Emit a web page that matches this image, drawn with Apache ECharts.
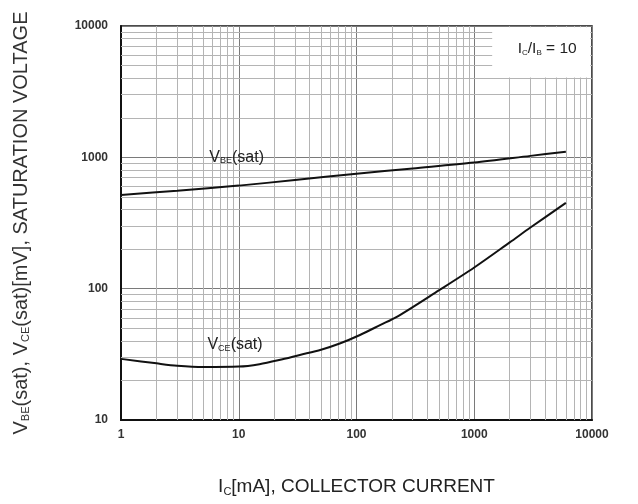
<!DOCTYPE html>
<html><head><meta charset="utf-8">
<script src="https://cdn.jsdelivr.net/npm/echarts@6/dist/echarts.min.js"></script>
<style>html,body{margin:0;padding:0;background:#fff}#c{width:638px;height:504px}</style>
</head><body><div id="c"></div>
<script>
// Data (Ic in mA, voltage in mV)
const vbeIc  = [1, 3, 10, 30, 100, 300, 1000, 3000, 6000];
const vbeV   = [517, 557, 609, 672, 750, 823, 912, 1026, 1105];
const vceIc  = [1, 2, 3, 5, 10, 15, 22, 33, 50, 73, 107, 160, 220, 500, 1000, 2000, 3000, 6000];
const vceV   = [29.2, 27, 25.9, 25.3, 25.5, 26.6, 28.6, 31.3, 34.3, 38.4, 44.4, 53, 61, 97, 145, 225, 292, 450];
const xTickLabels = ['1', '10', '100', '1000', '10000'];
const yTickLabels = ['10', '100', '1000', '10000'];
const xDecades = [1, 10, 100, 1000];
const yDecades = [10, 100, 1000];
const minorSteps = [2, 3, 4, 5, 6, 7, 8, 9];

const vbeData = vbeIc.map((x, i) => [x, vbeV[i]]);
const vceData = vceIc.map((x, i) => [x, vceV[i]]);

const minorLines = [];
xDecades.forEach(d => minorSteps.forEach(s => minorLines.push({xAxis: d * s})));
yDecades.forEach(d => minorSteps.forEach(s => minorLines.push({yAxis: d * s})));

const FONT = '"Liberation Sans", Arial, sans-serif';
const chart = echarts.init(document.getElementById('c'), null, {renderer: 'canvas'});
chart.setOption({
  animation: false,
  backgroundColor: '#fff',
  grid: {left: 121, right: 46, top: 26, bottom: 84, show: true, borderColor: '#111', borderWidth: 1.5, backgroundColor: 'transparent'},
  xAxis: {
    type: 'log', logBase: 10, min: 1, max: 10000,
    axisLine: {show: true, lineStyle: {color: '#111', width: 2}},
    axisTick: {show: false},
    splitLine: {show: true, lineStyle: {color: '#7a7a7a', width: 1}},
    axisLabel: {
      margin: 9, fontFamily: FONT, fontSize: 12, fontWeight: 'bold', color: '#333',
      formatter: v => xTickLabels[Math.round(Math.log10(v))]
    },
    name: '{n|I}{s|C}{n|[mA], COLLECTOR CURRENT}',
    nameLocation: 'middle', nameGap: 57,
    nameTextStyle: {
      rich: {
        n: {fontFamily: FONT, fontSize: 19, color: '#222'},
        s: {fontFamily: FONT, fontSize: 11, color: '#222', verticalAlign: 'bottom', padding: [9, 0, 0, 0]}
      }
    }
  },
  yAxis: {
    type: 'log', logBase: 10, min: 10, max: 10000,
    axisLine: {show: true, lineStyle: {color: '#111', width: 2}},
    axisTick: {show: false},
    splitLine: {show: true, lineStyle: {color: '#7a7a7a', width: 1}},
    axisLabel: {
      margin: 13, fontFamily: FONT, fontSize: 12, fontWeight: 'bold', color: '#333',
      formatter: v => yTickLabels[Math.round(Math.log10(v)) - 1]
    },
    name: '{n|V}{s|BE}{n|(sat), V}{s|CE}{n|(sat)[mV], SATURATION VOLTAGE}',
    nameLocation: 'middle', nameGap: 90, nameRotate: 90,
    nameTextStyle: {
      rich: {
        n: {fontFamily: FONT, fontSize: 20, color: '#333'},
        s: {fontFamily: FONT, fontSize: 11, color: '#333', verticalAlign: 'bottom', padding: [9, 0, 0, 0]}
      }
    }
  },
  series: [
    {
      type: 'line', data: [], z: 1, silent: true,
      markLine: {
        z: 1, silent: true, symbol: ['none', 'none'], label: {show: false},
        lineStyle: {type: 'solid', color: '#b4b4b4', width: 1},
        emphasis: {disabled: true},
        data: minorLines
      }
    },
    {
      type: 'line', data: [], z: 2, silent: true,
      markArea: {
        z: 3, silent: true,
        itemStyle: {color: '#ffffff', opacity: 1},
        label: {
          show: true, position: 'inside', color: '#222', offset: [6, -4],
          formatter: '{n|I}{s|C}{n|/I}{s|B}{n| = 10}',
          rich: {
            n: {fontFamily: FONT, fontSize: 15.5, color: '#222'},
            s: {fontFamily: FONT, fontSize: 8, color: '#222', verticalAlign: 'bottom', padding: [6, 0, 0, 0]}
          }
        },
        data: [[{coord: [1420, 4050]}, {coord: [9650, 9780]}]]
      }
    },
    {
      name: 'VBE(sat)', type: 'line', data: vbeData, smooth: 0.3, z: 4,
      showSymbol: false, symbol: 'none',
      lineStyle: {color: '#111', width: 2},
      markPoint: {
        symbol: 'circle', symbolSize: 0, silent: true,
        label: {
          show: true, position: 'inside', formatter: '{n|V}{s|BE}{n|(sat)}',
          rich: {
            n: {fontFamily: FONT, fontSize: 16, color: '#222'},
            s: {fontFamily: FONT, fontSize: 9, color: '#222', verticalAlign: 'bottom', padding: [7, 0, 0, 0]}
          }
        },
        data: [{coord: [9.6, 1000]}]
      }
    },
    {
      name: 'VCE(sat)', type: 'line', data: vceData, smooth: 0.3, z: 4,
      showSymbol: false, symbol: 'none',
      lineStyle: {color: '#111', width: 2},
      markPoint: {
        symbol: 'circle', symbolSize: 0, silent: true,
        label: {
          show: true, position: 'inside', formatter: '{n|V}{s|CE}{n|(sat)}',
          rich: {
            n: {fontFamily: FONT, fontSize: 16, color: '#222'},
            s: {fontFamily: FONT, fontSize: 9, color: '#222', verticalAlign: 'bottom', padding: [7, 0, 0, 0]}
          }
        },
        data: [{coord: [9.3, 37.5]}]
      }
    }
  ]
});
</script></body></html>
